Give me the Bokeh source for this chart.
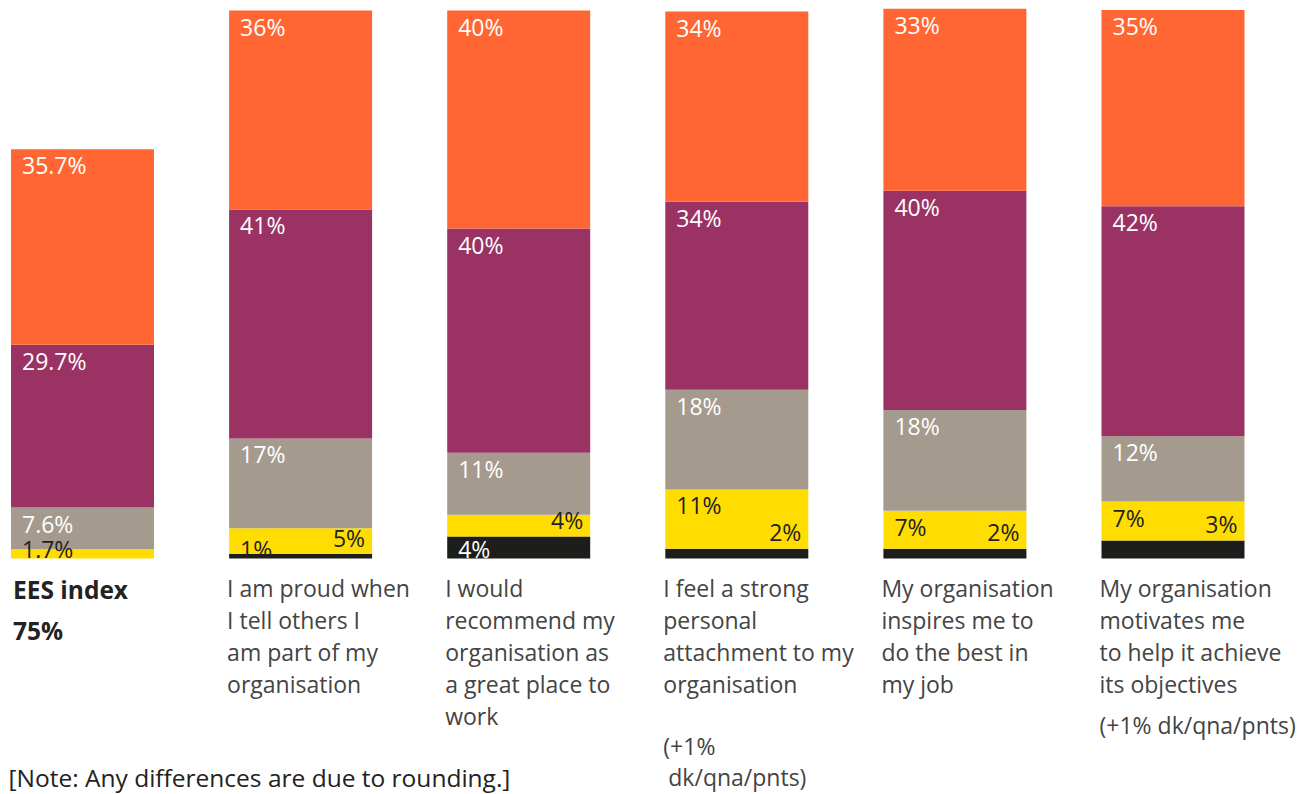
from bokeh.plotting import figure
from bokeh.models import ColumnDataSource, Range1d
from bokeh.core.properties import value
from bokeh.embed import file_html
from bokeh.resources import INLINE

# ---------------- data ----------------
statements = ["EES index", "Proud", "Recommend", "Attachment", "Inspires", "Motivates"]
strongly_disagree = [0.0, 0.8, 4.0, 1.8, 1.8, 3.3]
disagree = [1.7, 4.7, 4.0, 10.8, 6.9, 7.1]
neither = [7.6, 16.4, 11.3, 18.2, 18.4, 11.9]
agree = [29.7, 41.8, 40.9, 34.3, 40.0, 42.0]
strongly_agree = [35.7, 36.3, 39.8, 34.7, 33.2, 35.8]

lbl_strongly_agree = ["35.7%", "36%", "40%", "34%", "33%", "35%"]
lbl_agree = ["29.7%", "41%", "40%", "34%", "40%", "42%"]
lbl_neither = ["7.6%", "17%", "11%", "18%", "18%", "12%"]
lbl_disagree = ["1.7%", "5%", "4%", "11%", "7%", "7%"]
lbl_strongly_disagree = ["", "1%", "4%", "2%", "2%", "3%"]

cat_lines = [
    ["EES index", "75%"],
    ["I am proud when", "I tell others I", "am part of my", "organisation"],
    ["I would", "recommend my", "organisation as", "a great place to", "work"],
    ["I feel a strong", "personal", "attachment to my", "organisation"],
    ["My organisation", "inspires me to", "do the best in", "my job"],
    ["My organisation", "motivates me", "to help it achieve", "its objectives"],
]
footnotes = ["", "", "", "(+1%\n dk/qna/pnts)", "", "(+1% dk/qna/pnts)"]
note_text = "[Note: Any differences are due to rounding.]"

# ---------------- style ----------------
colors = ["#1D1D1B", "#FFDD00", "#A59A8E", "#9A3364", "#FF6633"]
FONT = value("Open Sans")
W, H = 1316, 794
XU = 218.1            # px per bar slot
PXU = 5.48            # px per percentage point
BASE = 558            # baseline pixel row
BW = 143 / XU
x0 = -82 / XU

def ypx(py):
    return (BASE - py) / PXU

def xpx(px):
    return px / XU

p = figure(width=W, height=H, output_backend="svg", toolbar_location=None,
           x_range=Range1d(x0, x0 + W / XU), y_range=Range1d(ypx(H), ypx(0)),
           x_axis_type=None, y_axis_type=None, min_border=0,
           outline_line_color=None, background_fill_color="white",
           border_fill_color="white")
p.grid.visible = False

xs = list(range(len(statements)))
src = ColumnDataSource(dict(x=xs, sd=strongly_disagree, d=disagree, n=neither,
                            a=agree, sa=strongly_agree))
p.vbar_stack(["sd", "d", "n", "a", "sa"], x="x", width=BW, color=colors,
             line_color=None, source=src)

# ---------------- value labels ----------------
left = dict(x=[], y=[], t=[], c=[])
right = dict(x=[], y=[], t=[], c=[])

def add_left(i, top, txt, col):
    if not txt:
        return
    left["x"].append(i - BW / 2 + xpx(11))
    left["y"].append(max(top - 16 / PXU, 10 / PXU))
    left["t"].append(txt)
    left["c"].append(col)

def add_right(i, bottom, txt, col):
    right["x"].append(i + BW / 2 - xpx(7))
    right["y"].append(bottom + 0.5 / PXU)
    right["t"].append(txt)
    right["c"].append(col)

yellow_right = [False, True, True, False, False, False]
black_right = [False, False, False, True, True, True]
for i in xs:
    c1 = strongly_disagree[i]
    c2 = c1 + disagree[i]
    c3 = c2 + neither[i]
    c4 = c3 + agree[i]
    c5 = c4 + strongly_agree[i]
    add_left(i, c5, lbl_strongly_agree[i], "white")
    add_left(i, c4, lbl_agree[i], "white")
    add_left(i, c3, lbl_neither[i], "white")
    if yellow_right[i]:
        add_right(i, c1, lbl_disagree[i], "#222222")
    else:
        add_left(i, c2, lbl_disagree[i], "#222222")
    if lbl_strongly_disagree[i]:
        if black_right[i]:
            add_right(i, c1, lbl_strongly_disagree[i], "#222222")
        else:
            col = "white" if c1 > 2 else "#222222"
            add_left(i, c1, lbl_strongly_disagree[i], col)

p.text(x="x", y="y", text="t", text_color="c", source=ColumnDataSource(left),
       text_font=FONT, text_font_size=value("23px"), text_align="left",
       text_baseline="middle")
p.text(x="x", y="y", text="t", text_color="c", source=ColumnDataSource(right),
       text_font=FONT, text_font_size=value("23px"), text_align="right",
       text_baseline="bottom")

# ---------------- category labels ----------------
cat = dict(x=[], y=[], t=[])
bold = dict(x=[], y=[], t=[])
for i, lines in enumerate(cat_lines):
    lx = i - BW / 2 - xpx(2 if i else -2)
    for k, ln in enumerate(lines):
        if i == 0:
            bold["x"].append(lx); bold["y"].append(ypx(589 + 41 * k)); bold["t"].append(ln)
        else:
            cat["x"].append(lx); cat["y"].append(ypx(587 + 32 * k)); cat["t"].append(ln)
    if footnotes[i]:
        parts = footnotes[i].split("\n")
        start = 745 if len(parts) > 1 else 724
        for k, ln in enumerate(parts):
            shift = xpx(5) if ln.startswith(" ") else 0
            cat["x"].append(lx + shift); cat["y"].append(ypx(start + 31 * k))
            cat["t"].append(ln.strip())

p.text(x="x", y="y", text="t", source=ColumnDataSource(cat), text_font=FONT,
       text_font_size=value("23px"), text_color="#444444", text_align="left",
       text_baseline="middle")
p.text(x="x", y="y", text="t", source=ColumnDataSource(bold), text_font=FONT,
       text_font_size=value("24.5px"), text_font_style="bold", text_color="#222222",
       text_align="left", text_baseline="middle")
p.text(x=[x0 + xpx(8)], y=[ypx(777)], text=[note_text], text_font=FONT,
       text_font_size=value("24.5px"), text_color="#222222", text_align="left",
       text_baseline="middle")

open("out.html", "w").write(file_html(p, INLINE))
